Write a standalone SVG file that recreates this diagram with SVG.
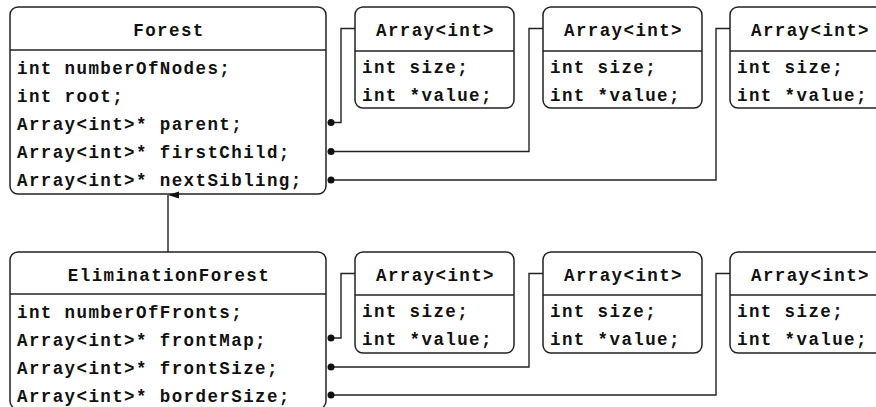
<svg xmlns="http://www.w3.org/2000/svg" width="876" height="407" viewBox="0 0 876 407">
<defs>
<style>
.box{fill:#fff;stroke:#222;stroke-width:1.5}
.div{stroke:#222;stroke-width:1.5}
.t{font-family:"Liberation Mono","Courier New",monospace;font-weight:bold;font-size:17.5px;letter-spacing:1.4px;fill:#111}
.h{text-anchor:middle}
.c{fill:none;stroke:#222;stroke-width:1.4}
.dot{fill:#111}
</style>
<marker id="arr" markerWidth="8" markerHeight="12" refX="4" refY="0" orient="auto" markerUnits="userSpaceOnUse" viewBox="0 0 8 12">
<path d="M4,0 L7.5,11 L0.5,11 Z" fill="#111"/>
</marker>
</defs>
<rect width="876" height="407" fill="#fff"/>

<g id="forest">
<rect class="box" x="10" y="7" width="316" height="187" rx="8"/>
<line class="div" x1="10" y1="50" x2="326" y2="50"/>
<text class="t h" x="169" y="36">Forest</text>
<text class="t" x="17" y="74">int numberOfNodes;</text>
<text class="t" x="17" y="102">int root;</text>
<text class="t" x="17" y="130">Array&lt;int&gt;* parent;</text>
<text class="t" x="17" y="158">Array&lt;int&gt;* firstChild;</text>
<text class="t" x="17" y="186">Array&lt;int&gt;* nextSibling;</text>
</g>

<g id="array1">
<rect class="box" x="355" y="7" width="159" height="101" rx="8"/>
<line class="div" x1="355" y1="51" x2="514" y2="51"/>
<text class="t h" x="435.5" y="36">Array&lt;int&gt;</text>
<text class="t" x="362" y="73">int size;</text>
<text class="t" x="362" y="101">int *value;</text>
</g>
<g id="array2">
<rect class="box" x="543" y="7" width="159" height="101" rx="8"/>
<line class="div" x1="543" y1="51" x2="702" y2="51"/>
<text class="t h" x="623.5" y="36">Array&lt;int&gt;</text>
<text class="t" x="550" y="73">int size;</text>
<text class="t" x="550" y="101">int *value;</text>
</g>
<g id="array3">
<rect class="box" x="730" y="7" width="159" height="101" rx="8"/>
<line class="div" x1="730" y1="51" x2="889" y2="51"/>
<text class="t h" x="810.5" y="36">Array&lt;int&gt;</text>
<text class="t" x="737" y="73">int size;</text>
<text class="t" x="737" y="101">int *value;</text>
</g>

<g id="eliminationForest">
<rect class="box" x="10" y="252" width="316" height="157" rx="8"/>
<line class="div" x1="10" y1="294" x2="326" y2="294"/>
<text class="t h" x="169" y="281">EliminationForest</text>
<text class="t" x="17" y="318">int numberOfFronts;</text>
<text class="t" x="17" y="346">Array&lt;int&gt;* frontMap;</text>
<text class="t" x="17" y="374">Array&lt;int&gt;* frontSize;</text>
<text class="t" x="17" y="402">Array&lt;int&gt;* borderSize;</text>
</g>

<g id="array4">
<rect class="box" x="355" y="252" width="159" height="101" rx="8"/>
<line class="div" x1="355" y1="295" x2="514" y2="295"/>
<text class="t h" x="435.5" y="281">Array&lt;int&gt;</text>
<text class="t" x="362" y="317">int size;</text>
<text class="t" x="362" y="345">int *value;</text>
</g>
<g id="array5">
<rect class="box" x="543" y="252" width="159" height="101" rx="8"/>
<line class="div" x1="543" y1="295" x2="702" y2="295"/>
<text class="t h" x="623.5" y="281">Array&lt;int&gt;</text>
<text class="t" x="550" y="317">int size;</text>
<text class="t" x="550" y="345">int *value;</text>
</g>
<g id="array6">
<rect class="box" x="730" y="252" width="159" height="101" rx="8"/>
<line class="div" x1="730" y1="295" x2="889" y2="295"/>
<text class="t h" x="810.5" y="281">Array&lt;int&gt;</text>
<text class="t" x="737" y="317">int size;</text>
<text class="t" x="737" y="345">int *value;</text>
</g>

<g id="connectors">
<path class="c" d="M331,122.5 H341 V28.5 H355"/>
<path class="c" d="M331,151.5 H529 V28.5 H543"/>
<path class="c" d="M331,180 H716 V28.5 H730"/>
<circle class="dot" cx="331" cy="122.5" r="3.5"/>
<circle class="dot" cx="331" cy="151.5" r="3.5"/>
<circle class="dot" cx="331" cy="180" r="3.5"/>
<path class="c" d="M331,338 H341 V273.5 H355"/>
<path class="c" d="M331,367 H529 V273.5 H543"/>
<path class="c" d="M331,395 H716 V273.5 H730"/>
<circle class="dot" cx="331" cy="338" r="3.5"/>
<circle class="dot" cx="331" cy="367" r="3.5"/>
<circle class="dot" cx="331" cy="395" r="3.5"/>
<line class="c" x1="168" y1="252" x2="168" y2="195" marker-end="url(#arr)"/>
</g>
</svg>
